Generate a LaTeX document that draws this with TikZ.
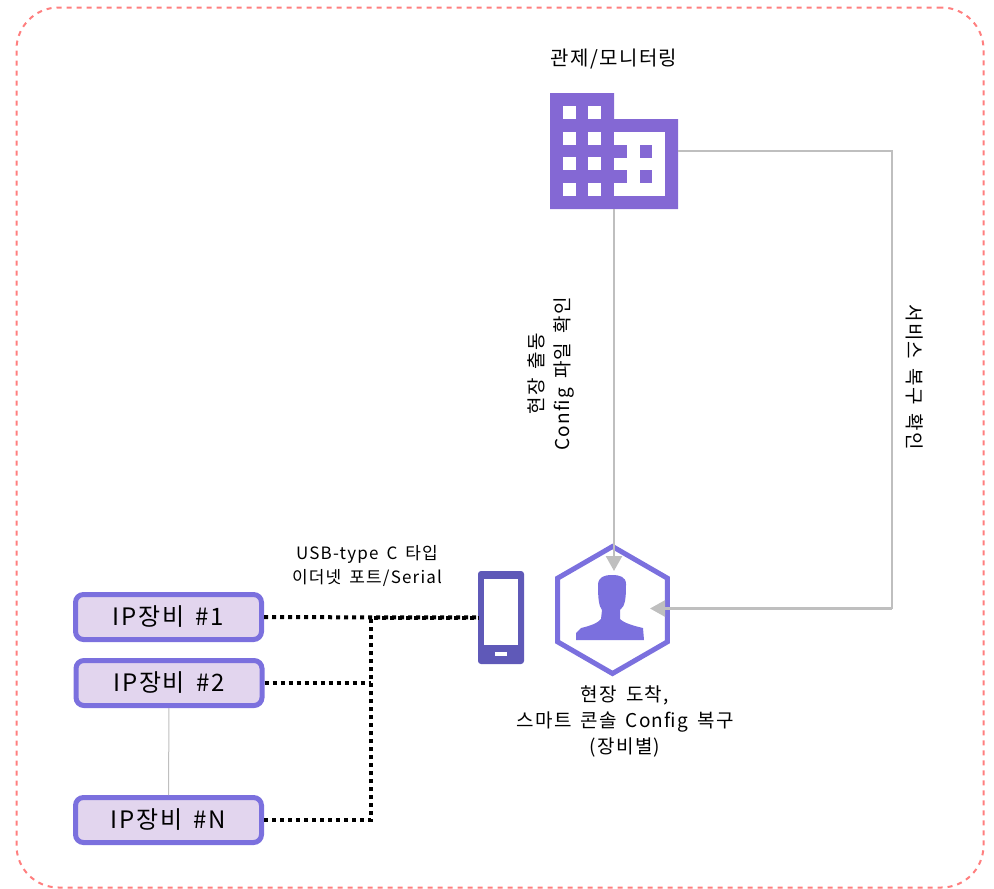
\documentclass[tikz,border=0pt]{standalone}
\usepackage{fontspec}
\setmainfont{Noto Sans CJK KR}
\newfontfamily\widefont[LetterSpace=7, WordSpace=1.6]{Noto Sans CJK KR}
\usetikzlibrary{arrows.meta, shapes.geometric}
\definecolor{hexblue}{HTML}{7B70DE}
\definecolor{boxfill}{HTML}{E2D5EE}
\definecolor{buildcol}{HTML}{8468D4}
\definecolor{phonecol}{HTML}{5F59B8}
\definecolor{linegray}{HTML}{BFBFBF}
\definecolor{framered}{HTML}{FF7F7F}

\begin{document}
\begin{tikzpicture}[
    x=1pt, y=-1pt,
    devbox/.style={rectangle, draw=hexblue, fill=boxfill, line width=5pt, rounded corners=8pt, minimum width=186pt, minimum height=45pt, inner sep=0pt, outer sep=2.5pt, font=\widefont\fontsize{24}{28}\selectfont},
    label/.style={align=center, inner sep=0pt, font=\widefont\fontsize{19}{26}\selectfont},
    arrow/.style={-{Triangle[length=15pt,width=16pt]}, linegray, line width=2.5pt},
    plain/.style={linegray, line width=2.5pt},
    dots/.style={black, line width=4pt, dash pattern=on 4pt off 4pt}
]
\useasboundingbox (0,0) rectangle (994,889);

% Frame
\node[draw=framered, line width=2pt, dash pattern=on 5pt off 5pt, rounded corners=42pt, minimum width=967pt, minimum height=880pt, inner sep=0pt, outer sep=0pt] (frame) at (500,447.5) {};

% Nodes
\node[minimum width=128pt, minimum height=116pt, inner sep=0pt, outer sep=0pt] (building) at (614,151) {};
\node[regular polygon, regular polygon sides=6, shape border rotate=30, draw=hexblue, line width=5pt, minimum size=127pt, inner sep=0pt, outer sep=0pt] (hexagon) at (612.5,610) {};
\node[minimum width=76pt, minimum height=75pt, inner sep=0pt, outer sep=0pt] (person) at (612,608.5) {};
\node[fill=phonecol, rounded corners=3pt, minimum width=46pt, minimum height=93pt, inner sep=0pt, outer sep=0pt] (phone) at (501,617.5) {};
\node[devbox] (dev1) at (168.5,617) {IP장비 \#1};
\node[devbox] (dev2) at (169,683) {IP장비 \#2};
\node[devbox] (devn) at (168.5,820) {IP장비 \#N};
\coordinate (busTop) at (371,617.5);
\coordinate (busTwo) at (371,683);
\coordinate (busEnd) at (371,820);
\coordinate (turn) at (892,608.5);

% Labels
\node[label, font=\widefont\fontsize{20}{24}\selectfont] (titleText) at (614,59) {관제/모니터링};
\node[label, rotate=90] (dispatchText) at (551,374) {현장 출동\\Config 파일 확인};
\node[label, rotate=-90] (restoreText) at (915,377) {서비스 복구 확인};
\node[label, font=\widefont\fontsize{17}{24}\selectfont] (usbText) at (367,566) {USB-type C 타입\\이더넷 포트/Serial};
\node[label] (arriveText) at (625,721) {현장 도착,\\스마트 콘솔 Config 복구\\(장비별)};

% Building icon
\fill[buildcol] (550,93) -- (614,93) -- (614,119) -- (678,119) -- (678,209) -- (550,209) -- cycle;
\fill[white] (614,132) rectangle (665,196);
\foreach \y in {145,170} {
    \fill[buildcol] (614,\y) rectangle ++(13,12.5);
    \fill[buildcol] (640,\y) rectangle ++(12,12.5);
}
\foreach \x in {563,588} {
    \foreach \y in {106,132,157,183} {
        \fill[white] (\x,\y) rectangle ++(13,13);
    }
}

% Phone icon
\fill[white] (484,579) rectangle (518,645);
\fill[white] (495,652) rectangle (507,656);

% Person icon
\fill[hexblue] (576,640) -- (576,633) -- (581,628) .. controls (590,626) and (598,623) .. (601,619) -- (602,610)
    .. controls (599,606) and (598,600) .. (598,584) .. controls (599,577) and (604,575) .. (612,575)
    .. controls (620,575) and (626,577) .. (626,584) .. controls (626,600) and (625,606) .. (620,610)
    -- (620,619) .. controls (624,623) and (634,626) .. (643,628) -- (644,640) -- cycle;

% Arrows
\draw[arrow] (building.south) -- (building.south |- person.north);
\draw[plain] (building.east) -| (turn);
\draw[arrow] (turn) -- (person.east);
\draw[dots] (dev1) -- (phone);
\draw[dots] (dev2) -- (busTwo);
\draw[dots] (devn) -- (busEnd) -- (busTop) -- (phone);
\draw[linegray, line width=1pt] (dev2) -- (devn);

\end{tikzpicture}
\end{document}
